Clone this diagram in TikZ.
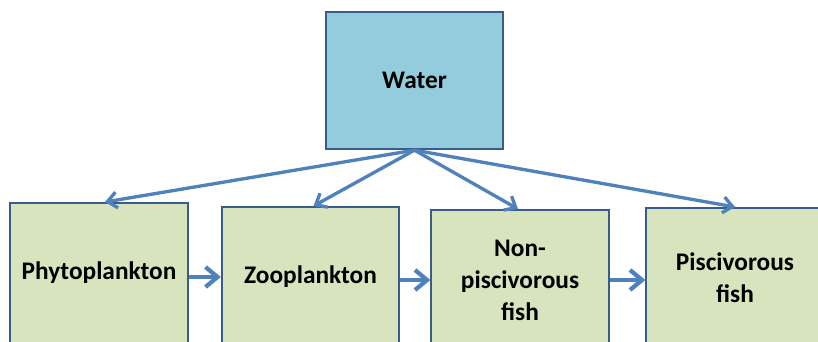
\documentclass[tikz,border=0pt]{standalone}
\usepackage{fontspec}
\setmainfont{Carlito}
\usepackage{tikz}
\usetikzlibrary{arrows.meta,calc}
\definecolor{waterblue}{HTML}{93CDDD}
\definecolor{foodgreen}{HTML}{D7E4BD}
\definecolor{edgeblue}{HTML}{385D8A}
\definecolor{arrowblue}{HTML}{4F81BD}
\tikzstyle{level} = [rectangle, draw=edgeblue, line width=1.5pt, fill=foodgreen, minimum width=133pt, minimum height=105pt, align=center, font=\fontsize{19}{24}\selectfont\bfseries]
\tikzstyle{uptake} = [draw=arrowblue, line width=2.5pt, -{Straight Barb[length=7pt,width=12pt]}]
\tikzstyle{eaten} = [draw=arrowblue, line width=3.2pt, -{Straight Barb[length=9pt,width=15pt]}]

\begin{document}
\begin{tikzpicture}[x=0.75pt, y=-0.75pt]
                \useasboundingbox (0,0) rectangle (818,342);
                \clip (0,0) rectangle (818,342);
                \node[level, fill=waterblue, minimum height=103pt] (water) at (414.5, 80.5) {Water};
                \node[level] (phyto) at (99, 273) {Phytoplankton};
                \node[level] (zoo) at (310.5, 277) {Zooplankton};
                \node[level] (nonpisc) at (520, 280) {Non-\\piscivorous\\fish};
                \node[level] (pisc) at (735, 278) {Piscivorous\\fish};
                
                \draw[uptake] (water.south) -- ($(phyto.north)+(6,0)$);
                \draw[uptake] (water.south) -- ($(zoo.north)+(3,0)$);
                \draw[uptake] (water.south) -- ($(nonpisc.north)+(-2,0)$);
                \draw[uptake] (water.south) -- (pisc.north);
                
                \draw[eaten] (phyto.east |- 0,277) -- (zoo.west |- 0,277);
                \draw[eaten] (zoo.east |- 0,280) -- (nonpisc.west |- 0,280);
                \draw[eaten] (nonpisc.east |- 0,280) -- (pisc.west |- 0,280);
            \end{tikzpicture}
\end{document}
